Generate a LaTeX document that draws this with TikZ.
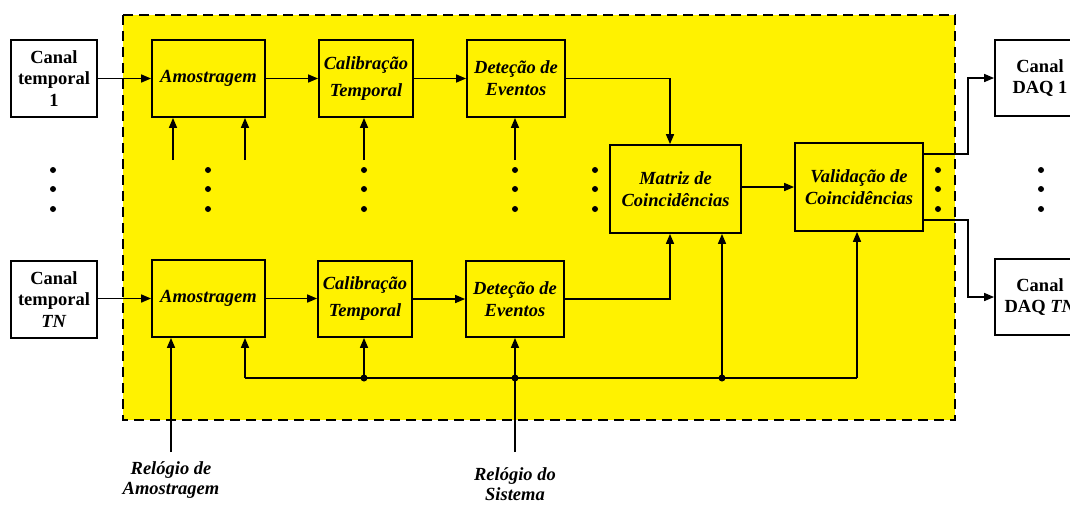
\documentclass[tikz,border=0pt]{standalone}
\usepackage{fontspec}
\setmainfont{Liberation Serif}
\usetikzlibrary{arrows.meta}
\begin{document}
\begin{tikzpicture}[x=1pt,y=-1pt,
  blk/.style={draw, line width=1.8pt, fill=yellow, align=center, font=\fontsize{18.5}{22}\selectfont\bfseries\itshape, inner sep=0pt},
  wblk/.style={draw, line width=1.8pt, fill=white, align=center, font=\fontsize{18.5}{21.5}\selectfont\bfseries, inner sep=0pt},
  conn/.style={line width=1.6pt},
  arr/.style={line width=1.6pt, -{Triangle[length=10pt,width=8pt]}},
  vdot/.style={circle, fill=black, inner sep=0pt, minimum size=6pt},
  jdot/.style={circle, fill=black, inner sep=0pt, minimum size=7pt},
  lbl/.style={align=center, font=\fontsize{18.5}{19.5}\selectfont\bfseries\itshape}]
\useasboundingbox (0,0) rectangle (1070,504);
% region
\path[draw, dashed, dash pattern=on 10pt off 6pt, line width=1.8pt, fill=yellow] (123,15) rectangle (955,420);
% boxes
\node[wblk, minimum width=86pt, minimum height=77pt] (C1) at (54,78.5) {Canal\\temporal\\1};
\node[wblk, minimum width=86pt, minimum height=77pt] (CN) at (54,299.5) {Canal\\temporal\\\textit{TN}};
\node[blk, minimum width=113pt, minimum height=77pt] (A1) at (208.5,78.5) {Amostragem};
\node[blk, minimum width=113pt, minimum height=77pt] (AN) at (208.5,298.5) {Amostragem};
\node[blk, minimum width=94pt, minimum height=77pt] (K1) at (366,78.5) {Calibração\\[5pt]Temporal};
\node[blk, minimum width=94pt, minimum height=76pt] (KN) at (365,299) {Calibração\\[5pt]Temporal};
\node[blk, minimum width=98pt, minimum height=77pt] (D1) at (516,78.5) {Deteção de\\Eventos};
\node[blk, minimum width=98pt, minimum height=76pt] (DN) at (515,299) {Deteção de\\Eventos};
\node[blk, minimum width=131pt, minimum height=88pt] (M) at (675.5,189) {Matriz de\\Coincidências};
\node[blk, minimum width=128pt, minimum height=88pt] (V) at (859,187) {Validação de\\Coincidências};
\node[wblk, minimum width=90pt, minimum height=76pt] (Q1) at (1040,78) {Canal\\DAQ 1};
\node[wblk, minimum width=90pt, minimum height=76pt] (QN) at (1040,297) {Canal\\DAQ \textit{TN}};
% labels
\node[lbl] (RA) at (171,480) {Relógio de\\Amostragem};
\node[lbl] (RS) at (515,484) {Relógio do\\Sistema};
% main row connectors
\draw[arr] (C1.east) -- (A1.west);
\draw[arr] (A1.east) -- (K1.west);
\draw[arr] (K1.east) -- (D1.west);
\draw[arr] (CN.east |- AN.west) -- (AN.west);
\draw[arr] (AN.east) -- (AN.east -| KN.west);
\draw[arr] (KN.east) -- (DN.west);
\coordinate (mx) at (670,0);
\coordinate (mtop) at (M.north -| mx);
\coordinate (mbot) at (M.south -| mx);
\draw[arr] (D1.east) -| (mtop);
\draw[arr] (DN.east) -| (mbot);
\draw[arr] (V.west -| M.east) -- (V.west);
% outputs
\coordinate (o1) at (923,154);
\coordinate (o2) at (923,220);
\coordinate (ox) at (968,0);
\draw[arr] (o1) -| (ox |- Q1.west) -- (Q1.west);
\draw[arr] (o2) -| (ox |- QN.west) -- (QN.west);
% top inputs
\coordinate (i1) at (173,160);
\coordinate (i2) at (245,160);
\coordinate (i3) at (364,160);
\coordinate (i4) at (515,160);
\draw[arr] (i1) -- (A1.south -| i1);
\draw[arr] (i2) -- (A1.south -| i2);
\draw[arr] (i3) -- (K1.south -| i3);
\draw[arr] (i4) -- (D1.south -| i4);
% dots
\foreach \x in {53,208,364,515,595,938,1041}
  \foreach \y in {170,189,209}
    \node[vdot] at (\x,\y) {};
% bus
\coordinate (bL) at (245,378);
\coordinate (bR) at (857,378);
\coordinate (j1) at (364,378);
\coordinate (j2) at (515,378);
\coordinate (j3) at (722,378);
\draw[conn] (bL) -- (bR);
\draw[arr] (bL) -- (AN.south -| bL);
\draw[arr] (bR) -- (V.south -| bR);
\draw[arr] (j1) -- (KN.south -| j1);
\draw[arr] (j3) -- (M.south -| j3);
\coordinate (rs) at (515,452);
\coordinate (ra) at (171,452);
\draw[arr] (rs) -- (DN.south -| rs);
\draw[arr] (ra) -- (AN.south -| ra);
\node[jdot] at (j1) {};
\node[jdot] at (j2) {};
\node[jdot] at (j3) {};
\end{tikzpicture}
\end{document}
